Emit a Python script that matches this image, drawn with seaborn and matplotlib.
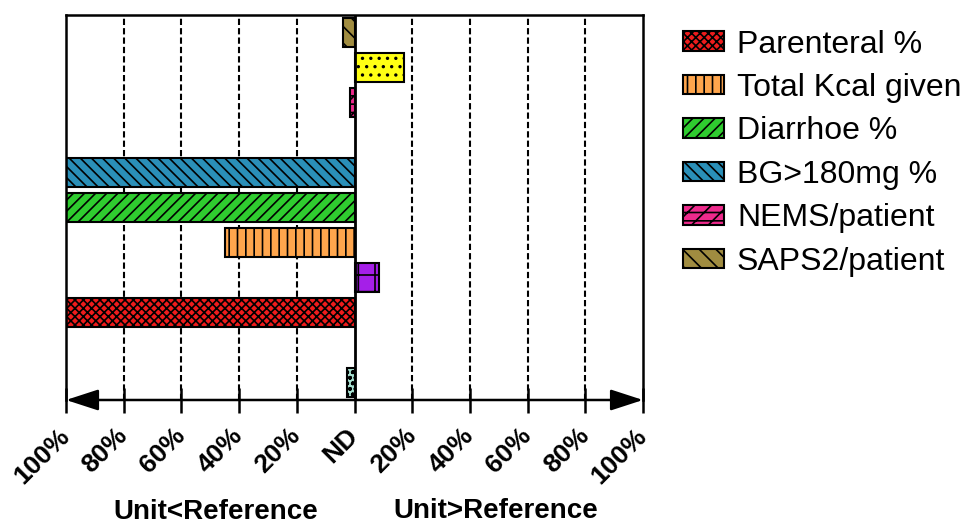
import matplotlib
matplotlib.use("Agg")
import matplotlib.pyplot as plt
from matplotlib.patches import Patch
import seaborn as sns

# bars from top to bottom (empty slots are kept as gaps)
slot_order = ['SAPS2/patient', 'Other A', 'NEMS/patient', 'gap 1', 'BG>180mg %',
              'Diarrhoe %', 'Total Kcal given', 'Other B', 'Parenteral %', 'gap 2', 'Other C']
bar_labels = ['SAPS2/patient', 'Other A', 'NEMS/patient', 'BG>180mg %', 'Diarrhoe %',
              'Total Kcal given', 'Other B', 'Parenteral %', 'Other C']
bar_values = [-4, 17, -1.5, -100, -100, -45, 8.5, -100, -2.5]

tick_values = [-100, -80, -60, -40, -20, 0, 20, 40, 60, 80, 100]
tick_labels = ['100%', '80%', '60%', '40%', '20%', 'ND', '20%', '40%', '60%', '80%', '100%']
legend_order = ['Parenteral %', 'Total Kcal given', 'Diarrhoe %', 'BG>180mg %',
                'NEMS/patient', 'SAPS2/patient']

colors = {
    'Parenteral %': '#ee1c1c',
    'Total Kcal given': '#ffa64d',
    'Diarrhoe %': '#2fcc2f',
    'BG>180mg %': '#2a8fb8',
    'NEMS/patient': '#ee2a8c',
    'SAPS2/patient': '#a08c40',
    'Other A': '#ffff14',
    'Other B': '#a51fe8',
    'Other C': '#a8e2d2',
}
hatches = {
    'Parenteral %': 'xxxx',
    'Total Kcal given': '||',
    'Diarrhoe %': '///',
    'BG>180mg %': '\\\\\\',
    'NEMS/patient': '//--',
    'SAPS2/patient': '\\\\',
    'Other A': '..',
    'Other B': '+',
    'Other C': 'ooo',
}

sns.set_theme(style='white')
plt.rcParams['font.family'] = ['Liberation Sans', 'DejaVu Sans']
plt.rcParams['text.color'] = 'black'
plt.rcParams['xtick.color'] = 'black'
plt.rcParams['hatch.linewidth'] = 1.2
plt.rcParams['hatch.color'] = 'black'

fig = plt.figure(figsize=(9.71, 5.27), dpi=100)
ax = fig.add_axes([0.068, 0.241, 0.5942, 0.7306])

sns.barplot(x=bar_values, y=bar_labels, order=slot_order, hue=bar_labels,
            palette=colors, saturation=1, orient='h', width=0.85, edgecolor='black',
            linewidth=1.5, legend=False, ax=ax, zorder=2)

for bar in ax.patches:
    slot = int(round(bar.get_y() + bar.get_height() / 2))
    bar.set_hatch(hatches[slot_order[slot]])

# dashed grid and the ND line
for x in [-80, -60, -40, -20, 20, 40, 60, 80]:
    ax.axvline(x, color='black', ls=(0, (3, 1.5)), lw=1.5, zorder=0.5)
ax.axvline(0, color='black', lw=2, zorder=4)

ax.set_xlim(-100, 100)
ax.set_ylim(len(slot_order) - 0.5, -0.5)
ax.set_yticks([])
ax.set_ylabel('')
ax.set_xlabel('')
ax.set_xticks(tick_values)
ax.set_xticklabels(tick_labels, fontsize=19, fontweight='bold', color='black')
ax.tick_params(axis='x', direction='inout', length=18, width=1.8, color='black',
               pad=14, bottom=True)
for lbl in ax.get_xticklabels():
    lbl.set_rotation(45)
    lbl.set_ha('right')
    lbl.set_va('center')
    lbl.set_rotation_mode('anchor')

for side in ['left', 'right', 'top']:
    ax.spines[side].set_color('black')
    ax.spines[side].set_linewidth(1.8)
ax.spines['bottom'].set_visible(False)

# double arrow as x axis
ax.annotate('', xy=(-100, 0), xytext=(100, 0), xycoords=('data', 'axes fraction'),
            textcoords=('data', 'axes fraction'),
            arrowprops=dict(arrowstyle='<|-|>,head_length=0.4,head_width=0.13',
                            mutation_scale=50, color='black', lw=1.8,
                            shrinkA=0, shrinkB=0),
            annotation_clip=False, zorder=5)

fig.text(0.2225, 0.003, 'Unit<Reference', fontsize=20, fontweight='bold',
         ha='center', va='bottom', color='black')
fig.text(0.511, 0.017, 'Unit>Reference', fontsize=20, fontweight='bold',
         ha='center', va='baseline', color='black')

handles = [Patch(facecolor=colors[k], edgecolor='black', hatch=hatches[k], lw=1.5, label=k)
           for k in legend_order]
fig.legend(handles=handles, loc='upper left', bbox_to_anchor=(0.703, 0.944),
           frameon=False, fontsize=23, handlelength=1.3, handleheight=0.56,
           handletextpad=0.4, labelspacing=0.42, borderpad=0, borderaxespad=0,
           labelcolor='black')

fig.savefig('out.png', dpi=100)
